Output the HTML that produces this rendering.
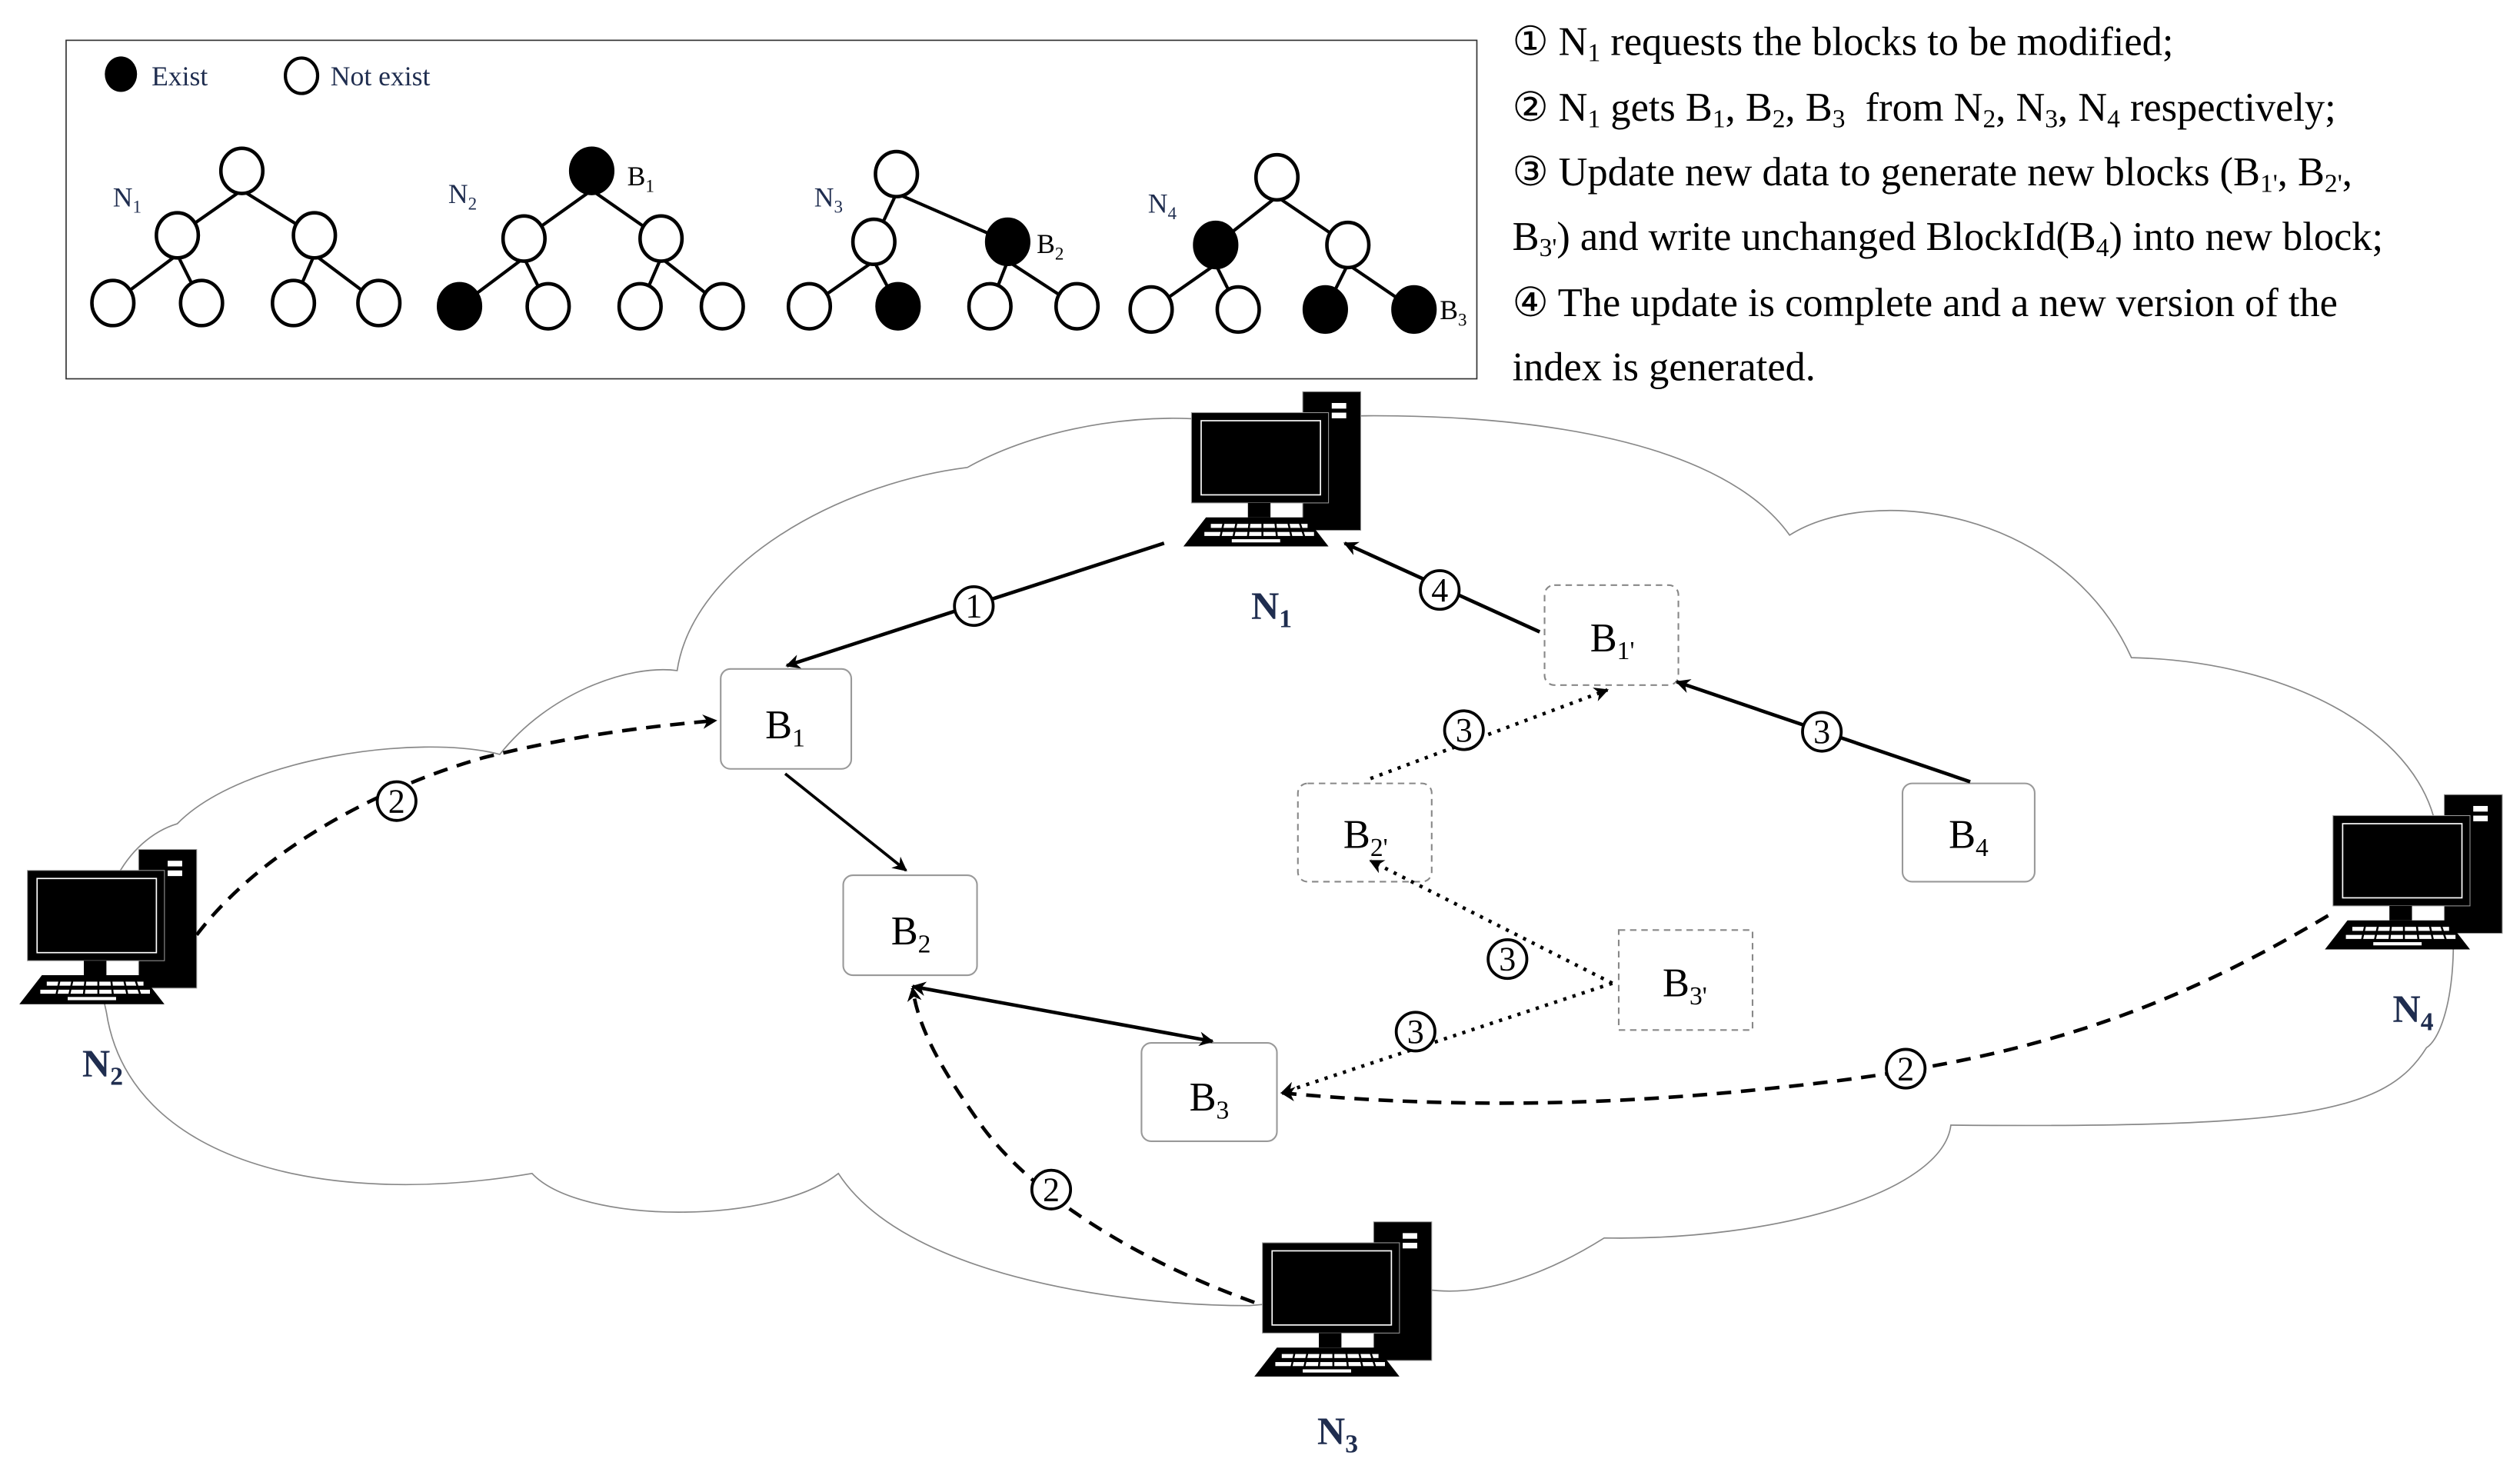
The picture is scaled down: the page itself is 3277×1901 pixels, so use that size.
<!DOCTYPE html>
<html><head><meta charset="utf-8"><style>
html,body{margin:0;padding:0;background:#fff;}
svg{display:block;}
text{font-family:"Liberation Serif",serif;}
</style></head><body>
<svg width="3277" height="1901" viewBox="0 0 1563 907" preserveAspectRatio="none" xmlns="http://www.w3.org/2000/svg">
<defs>
<g id="pc">
  <rect x="74" y="0" width="36" height="86" fill="#000" stroke="#999" stroke-width="0.5"/>
  <rect x="92" y="7" width="9" height="3.5" fill="#fff"/>
  <rect x="92" y="13" width="9" height="3.5" fill="#fff"/>
  <rect x="5" y="13" width="85" height="56" fill="#000" stroke="#999" stroke-width="0.5"/>
  <rect x="11" y="18" width="74" height="46" fill="none" stroke="#fff" stroke-width="0.8"/>
  <rect x="40" y="69" width="14" height="9" fill="#000"/>
  <polygon points="14,78 76,78 90,96 0,96" fill="#000"/>
  <g fill="#fff">
    <rect x="17" y="82" width="60" height="2.5"/>
    <rect x="13" y="87" width="68" height="2.5"/>
    <rect x="30" y="91.5" width="30" height="2"/>
  </g>
  <g stroke="#000" stroke-width="1.2">
    <line x1="25" y1="81" x2="23" y2="90"/><line x1="33" y1="81" x2="31" y2="90"/><line x1="41" y1="81" x2="40" y2="90"/><line x1="49" y1="81" x2="49" y2="90"/><line x1="57" y1="81" x2="58" y2="90"/><line x1="65" y1="81" x2="67" y2="90"/><line x1="72" y1="81" x2="75" y2="90"/>
  </g>
</g>
<marker id="ah" viewBox="0 0 10 10" refX="9" refY="5" markerWidth="9" markerHeight="9" markerUnits="userSpaceOnUse" orient="auto-start-reverse">
  <path d="M0,0 L10,5 L0,10 L3,5 Z" fill="#000"/>
</marker>
</defs>

<!-- legend box -->
<rect x="41" y="25" width="875" height="210" fill="none" stroke="#333" stroke-width="0.8"/>
<ellipse cx="75" cy="46" rx="10" ry="11" fill="#000"/>
<text x="94" y="53" font-size="17" fill="#1f2d4f">Exist</text>
<ellipse cx="187" cy="47" rx="10" ry="11" fill="#fff" stroke="#000" stroke-width="2"/>
<text x="205" y="53" font-size="17" fill="#1f2d4f">Not exist</text>

<g stroke="#000" stroke-width="2">
<line x1="150" y1="118" x2="110" y2="146"/><line x1="150" y1="118" x2="195" y2="146"/>
<line x1="110" y1="158" x2="70" y2="188"/><line x1="110" y1="158" x2="125" y2="188"/>
<line x1="195" y1="158" x2="182" y2="188"/><line x1="195" y1="158" x2="235" y2="188"/>
<line x1="367" y1="118" x2="325" y2="148"/><line x1="367" y1="118" x2="410" y2="148"/>
<line x1="325" y1="160" x2="285" y2="190"/><line x1="325" y1="160" x2="340" y2="190"/>
<line x1="410" y1="160" x2="397" y2="190"/><line x1="410" y1="160" x2="448" y2="190"/>
<line x1="556" y1="120" x2="542" y2="150"/><line x1="556" y1="120" x2="625" y2="150"/>
<line x1="542" y1="162" x2="502" y2="190"/><line x1="542" y1="162" x2="557" y2="190"/>
<line x1="625" y1="162" x2="614" y2="190"/><line x1="625" y1="162" x2="668" y2="190"/>
<line x1="792" y1="122" x2="754" y2="152"/><line x1="792" y1="122" x2="836" y2="152"/>
<line x1="754" y1="164" x2="714" y2="192"/><line x1="754" y1="164" x2="768" y2="192"/>
<line x1="836" y1="164" x2="822" y2="192"/><line x1="836" y1="164" x2="877" y2="192"/>
</g>
<g stroke="#000" stroke-width="2.2">
<ellipse cx="150" cy="106" rx="13" ry="14" fill="#fff"/>
<ellipse cx="110" cy="146" rx="13" ry="14" fill="#fff"/><ellipse cx="195" cy="146" rx="13" ry="14" fill="#fff"/>
<ellipse cx="70" cy="188" rx="13" ry="14" fill="#fff"/><ellipse cx="125" cy="188" rx="13" ry="14" fill="#fff"/><ellipse cx="182" cy="188" rx="13" ry="14" fill="#fff"/><ellipse cx="235" cy="188" rx="13" ry="14" fill="#fff"/>
<ellipse cx="367" cy="106" rx="13" ry="14" fill="#000"/>
<ellipse cx="325" cy="148" rx="13" ry="14" fill="#fff"/><ellipse cx="410" cy="148" rx="13" ry="14" fill="#fff"/>
<ellipse cx="285" cy="190" rx="13" ry="14" fill="#000"/><ellipse cx="340" cy="190" rx="13" ry="14" fill="#fff"/><ellipse cx="397" cy="190" rx="13" ry="14" fill="#fff"/><ellipse cx="448" cy="190" rx="13" ry="14" fill="#fff"/>
<ellipse cx="556" cy="108" rx="13" ry="14" fill="#fff"/>
<ellipse cx="542" cy="150" rx="13" ry="14" fill="#fff"/><ellipse cx="625" cy="150" rx="13" ry="14" fill="#000"/>
<ellipse cx="502" cy="190" rx="13" ry="14" fill="#fff"/><ellipse cx="557" cy="190" rx="13" ry="14" fill="#000"/><ellipse cx="614" cy="190" rx="13" ry="14" fill="#fff"/><ellipse cx="668" cy="190" rx="13" ry="14" fill="#fff"/>
<ellipse cx="792" cy="110" rx="13" ry="14" fill="#fff"/>
<ellipse cx="754" cy="152" rx="13" ry="14" fill="#000"/><ellipse cx="836" cy="152" rx="13" ry="14" fill="#fff"/>
<ellipse cx="714" cy="192" rx="13" ry="14" fill="#fff"/><ellipse cx="768" cy="192" rx="13" ry="14" fill="#fff"/><ellipse cx="822" cy="192" rx="13" ry="14" fill="#000"/><ellipse cx="877" cy="192" rx="13" ry="14" fill="#000"/>
</g>
<g font-size="17" fill="#1f2d4f">
<text x="70" y="128">N<tspan font-size="11" dy="4">1</tspan></text>
<text x="278" y="126">N<tspan font-size="11" dy="4">2</tspan></text>
<text x="505" y="128">N<tspan font-size="11" dy="4">3</tspan></text>
<text x="712" y="132">N<tspan font-size="11" dy="4">4</tspan></text>
</g>
<g font-size="17" fill="#000">
<text x="389" y="115">B<tspan font-size="11" dy="4">1</tspan></text>
<text x="643" y="157">B<tspan font-size="11" dy="4">2</tspan></text>
<text x="893" y="198">B<tspan font-size="11" dy="4">3</tspan></text>
</g>

<!-- description text -->
<g font-size="25" fill="#000">
<text x="938" y="34">① N<tspan font-size="16" dy="4">1</tspan><tspan dy="-4"> requests the blocks to be modified;</tspan></text>
<text x="938" y="75">② N<tspan font-size="16" dy="4">1</tspan><tspan dy="-4"> gets B</tspan><tspan font-size="16" dy="4">1</tspan><tspan dy="-4">, B</tspan><tspan font-size="16" dy="4">2</tspan><tspan dy="-4">, B</tspan><tspan font-size="16" dy="4">3</tspan><tspan dy="-4" xml:space="preserve">  from N</tspan><tspan font-size="16" dy="4">2</tspan><tspan dy="-4">, N</tspan><tspan font-size="16" dy="4">3</tspan><tspan dy="-4">, N</tspan><tspan font-size="16" dy="4">4</tspan><tspan dy="-4"> respectively;</tspan></text>
<text x="938" y="115">③ Update new data to generate new blocks (B<tspan font-size="16" dy="4">1'</tspan><tspan dy="-4">, B</tspan><tspan font-size="16" dy="4">2'</tspan><tspan dy="-4">,</tspan></text>
<text x="938" y="155">B<tspan font-size="16" dy="4">3'</tspan><tspan dy="-4">) and write unchanged BlockId(B</tspan><tspan font-size="16" dy="4">4</tspan><tspan dy="-4">) into new block;</tspan></text>
<text x="938" y="196">④ The update is complete and a new version of the</text>
<text x="938" y="236">index is generated.</text>
</g>

<!-- cloud -->
<path d="M600,290 C650,262 720,255 760,262 C900,250 1060,262 1110,332 C1160,300 1280,315 1322,408 C1420,410 1505,455 1512,520 C1530,580 1520,640 1505,650 C1480,690 1430,700 1210,698 C1205,740 1100,770 995,768 C960,790 920,805 885,800 L775,810 C690,810 560,790 520,728 C480,760 360,760 330,728 C200,750 80,720 66,628 C50,560 80,520 110,511 C150,470 260,455 310,468 C340,430 390,412 420,416 C430,350 520,300 600,290 Z" fill="none" stroke="#888" stroke-width="0.8"/>

<use href="#pc" x="734" y="243"/>
<use href="#pc" x="12" y="527"/>
<use href="#pc" x="778" y="758"/>
<use href="#pc" x="1442" y="493"/>
<g font-size="24" font-weight="bold" fill="#1f2d4f">
<text x="776" y="384">N<tspan font-size="16" dy="5">1</tspan></text>
<text x="51" y="668">N<tspan font-size="16" dy="5">2</tspan></text>
<text x="817" y="896">N<tspan font-size="16" dy="5">3</tspan></text>
<text x="1484" y="634">N<tspan font-size="16" dy="5">4</tspan></text>
</g>

<g fill="#fff" stroke="#999" stroke-width="1">
<rect x="447" y="415" width="81" height="62" rx="6"/>
<rect x="523" y="543" width="83" height="62" rx="6"/>
<rect x="708" y="647" width="84" height="61" rx="6"/>
<rect x="1180" y="486" width="82" height="61" rx="6"/>
</g>
<g fill="#fff" stroke="#888" stroke-width="1" stroke-dasharray="4,3">
<rect x="958" y="363" width="83" height="62" rx="6"/>
<rect x="805" y="486" width="83" height="61" rx="6"/>
<rect x="1004" y="577" width="83" height="62"/>
</g>
<g font-size="25" fill="#000" text-anchor="middle">
<text x="487" y="458">B<tspan font-size="16" dy="5">1</tspan></text>
<text x="565" y="586">B<tspan font-size="16" dy="5">2</tspan></text>
<text x="750" y="689">B<tspan font-size="16" dy="5">3</tspan></text>
<text x="1221" y="526">B<tspan font-size="16" dy="5">4</tspan></text>
<text x="1000" y="404">B<tspan font-size="16" dy="5">1'</tspan></text>
<text x="847" y="526">B<tspan font-size="16" dy="5">2'</tspan></text>
<text x="1045" y="618">B<tspan font-size="16" dy="5">3'</tspan></text>
</g>

<g fill="none" stroke="#000" stroke-width="2.2">
<line x1="722" y1="337" x2="488" y2="413" marker-end="url(#ah)"/>
<line x1="955" y1="392" x2="834" y2="337" marker-end="url(#ah)"/>
<line x1="1222" y1="485" x2="1040" y2="423" marker-end="url(#ah)"/>
<line x1="487" y1="480" x2="562" y2="540" stroke-width="1.8" marker-end="url(#ah)"/>
<line x1="566" y1="612" x2="752" y2="646" marker-start="url(#ah)" marker-end="url(#ah)"/>
</g>
<g fill="none" stroke="#000" stroke-width="2.2" stroke-dasharray="2,4">
<line x1="850" y1="483" x2="997" y2="428" marker-end="url(#ah)"/>
<line x1="1000" y1="610" x2="850" y2="534" marker-end="url(#ah)"/>
<line x1="1000" y1="610" x2="795" y2="678" marker-end="url(#ah)"/>
</g>
<g fill="none" stroke="#000" stroke-width="2.2" stroke-dasharray="9,6">
<path d="M122,580 C160,530 230,490 300,470 C360,455 410,450 444,447" marker-end="url(#ah)"/>
<path d="M1444,568 C1340,630 1250,660 1100,675 C980,688 880,686 795,678" marker-end="url(#ah)"/>
<path d="M778,808 C700,780 640,740 610,700 C585,665 570,640 566,613" marker-end="url(#ah)"/>
</g>

<g fill="#fff" stroke="#000" stroke-width="1.8">
<circle cx="604" cy="376" r="12"/>
<circle cx="893" cy="366" r="12"/>
<circle cx="1130" cy="454" r="12"/>
<circle cx="908" cy="453" r="12"/>
<circle cx="935" cy="595" r="12"/>
<circle cx="878" cy="640" r="12"/>
<circle cx="246" cy="497" r="12"/>
<circle cx="1182" cy="663" r="12"/>
<circle cx="652" cy="738" r="12"/>
</g>
<g font-size="21" fill="#000" text-anchor="middle">
<text x="604" y="383">1</text>
<text x="893" y="373">4</text>
<text x="1130" y="461">3</text>
<text x="908" y="460">3</text>
<text x="935" y="602">3</text>
<text x="878" y="647">3</text>
<text x="246" y="504">2</text>
<text x="1182" y="670">2</text>
<text x="652" y="745">2</text>
</g>
</svg>
</body></html>
